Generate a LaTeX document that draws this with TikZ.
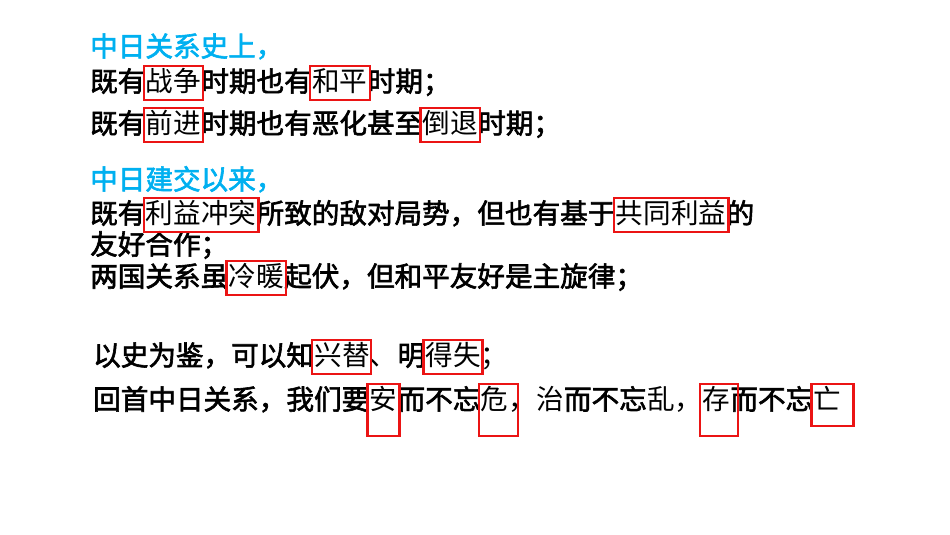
\documentclass[tikz,border=0pt]{standalone}
\usepackage{fontspec}
\newfontfamily\cjkb[FakeBold=2.2]{Noto Sans CJK SC}
\newfontfamily\cjkt{Noto Sans CJK SC}
\usetikzlibrary{calc}
\definecolor{cyanT}{RGB}{0,176,240}
\definecolor{redB}{RGB}{235,20,20}
\tikzset{
 seg/.style={inner sep=0pt,anchor=west,text height=23pt,text depth=4pt,font=\fontsize{27.6}{27.6}\selectfont\cjkb},
 thin/.style={seg,font=\fontsize{27.6}{27.6}\selectfont\cjkt},
 head/.style={seg,text=cyanT},
 redbox/.style={draw=redB,line width=2.2pt}
}
\newcommand\bx[1]{\draw[redbox] ($(#1.north west)+(-2,-2)$) rectangle ($(#1.south east)+(2,4)$);}
\begin{document}
\begin{tikzpicture}[x=1pt,y=-1pt]
\useasboundingbox (0,0) rectangle (950,535);
\node[head] (h1) at (90,47) {中日关系史上，};
\node[seg] (a1) at (90,82) {既有};
\node[thin] (a2) at (a1.east) {战争};
\node[seg] (a3) at (a2.east) {时期也有};
\node[thin] (a4) at (a3.east) {和平};
\node[seg] (a5) at (a4.east) {时期；};
\node[seg] (b1) at (90,124) {既有};
\node[thin] (b2) at (b1.east) {前进};
\node[seg] (b3) at (b2.east) {时期也有恶化甚至};
\node[thin] (b4) at (b3.east) {倒退};
\node[seg] (b5) at (b4.east) {时期；};
\node[head] (h2) at (90,180) {中日建交以来，};
\node[seg] (c1) at (90,214) {既有};
\node[thin] (c2) at (c1.east) {利益冲突};
\node[seg] (c3) at (c2.east) {所致的敌对局势，但也有基于};
\node[thin] (c4) at (c3.east) {共同利益};
\node[seg] (c5) at (c4.east) {的};
\node[seg] (d1) at (90,245) {友好合作；};
\node[seg] (e1) at (90,277) {两国关系虽};
\node[thin] (e2) at (e1.east) {冷暖};
\node[seg] (e3) at (e2.east) {起伏，但和平友好是主旋律；};
\node[seg] (f1) at (93,356) {以史为鉴，可以知};
\node[thin] (f2) at (f1.east) {兴替、};
\node[seg] (f3) at (f2.east) {明};
\node[thin] (f4) at (f3.east) {得失；};
\node[seg] (g1) at (93,400) {回首中日关系，我们要};
\node[thin] (g2) at (g1.east) {安};
\node[seg] (g3) at (g2.east) {而不忘};
\node[thin] (g4) at (g3.east) {危，治};
\node[seg] (g5) at (g4.east) {而不忘};
\node[thin] (g6) at (g5.east) {乱，存};
\node[seg] (g7) at (g6.east) {而不忘};
\node[thin] (g8) at (g7.east) {亡};
\bx{a2}\bx{a4}\bx{b2}\bx{b4}\bx{c2}\bx{c4}\bx{e2}
\draw[redbox] ($(f2.north west)+(-2,-2)$) rectangle ($(f2.south west)+(57,4)$);
\draw[redbox] ($(f4.north west)+(-2,-2)$) rectangle ($(f4.south west)+(57,4)$);
\draw[redbox] ($(g2.north west)+(-2,-2)$) rectangle ($(g2.south east)+(2,22)$);
\draw[redbox] ($(g4.north west)+(-2,-2)$) rectangle ($(g4.south west)+(37,22)$);
\draw[redbox] ($(g6.north west)+(53,-2)$) rectangle ($(g6.south west)+(91,22)$);
\draw[redbox] ($(g8.north west)+(-2,-2)$) rectangle ($(g8.south east)+(12,12)$);
\end{tikzpicture}
\end{document}
